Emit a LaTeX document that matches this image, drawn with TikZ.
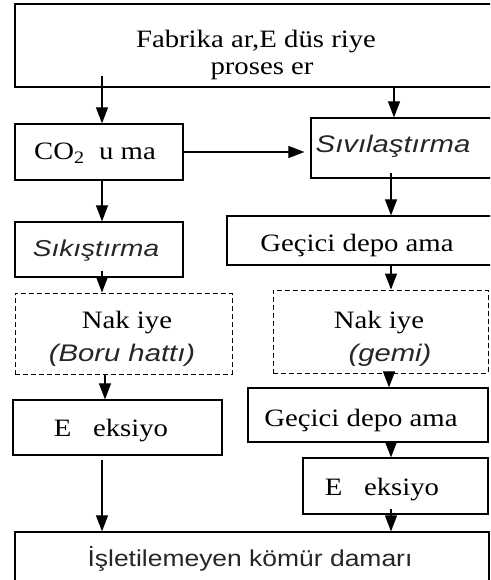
\documentclass[tikz,border=0pt]{standalone}
\usepackage{fontspec}
\setmainfont{Liberation Serif}[FakeStretch=1.15]
\newfontfamily\sansf{Liberation Sans}[FakeStretch=1.22]
\newfontfamily\sansg{Liberation Sans}[FakeStretch=1.15]
\usetikzlibrary{arrows.meta,fit}
\begin{document}
\begin{tikzpicture}[x=1pt,y=-1pt,
  box/.style={draw, line width=1.2pt, inner sep=0pt, rectangle},
  dbox/.style={box, line width=1pt, dash pattern=on 5pt off 3pt},
  arr/.style={line width=1.1pt, -{Triangle[length=16pt,width=12pt]}},
  serif/.style={font=\fontsize{25}{29}\selectfont, inner sep=0pt, anchor=base},
  sansi/.style={font=\sansf\itshape\fontsize{24}{28}\selectfont, inner sep=0pt, anchor=base, text=black!85},
  sansu/.style={font=\sansg\fontsize{23}{27}\selectfont, inner sep=0pt, anchor=base, text=black!85}]
\path[use as bounding box] (0,0) rectangle (490,580);
\clip (0,0) rectangle (490,580);

% boxes
\node[box, fit={(15,4) (497,87)}] (top) {};
\node[box, fit={(15,124) (183,180)}] (co2) {};
\node[box, fit={(311,118) (497,178)}] (sivi) {};
\node[box, fit={(15,222) (183,277)}] (sik) {};
\node[box, fit={(227,216) (497,265)}] (gec1) {};
\node[dbox, fit={(15,293) (232,374)}] (nak1) {};
\node[dbox, fit={(273,290) (488,373)}] (gemi) {};
\node[box, fit={(13,400) (222,455)}] (enj1) {};
\node[box, fit={(248,388) (488,442)}] (gec2) {};
\node[box, fit={(303,458) (488,514)}] (enj2) {};
\node[box, fit={(15,532) (489,595)}] (damar) {};

% texts
\node[serif] (topt1) at (256,48) {Fabrika ar,E düs riye};
\node[serif] (topt2) at (262,75) {proses er};
\node[serif] (co2t) at (95,160) {CO\textsubscript{2}\ \ u ma};
\node[sansi] (sivit) at (393,153) {Sıvılaştırma};
\node[sansi, font=\sansf\itshape\fontsize{23}{27}\selectfont] (sikt) at (96,256) {Sıkıştırma};
\node[serif] (gec1t) at (357,251) {Geçici depo ama};
\node[serif] (nak1t) at (127,328) {Nak iye};
\node[sansi] (nak1s) at (122,361) {(Boru hattı)};
\node[serif] (gemit) at (379,328) {Nak iye};
\node[sansi] (gemis) at (390,361) {(gemi)};
\node[serif] (enj1t) at (111,436) {E\ \ \ eksiyo};
\node[serif] (gec2t) at (361,426) {Geçici depo ama};
\node[serif] (enj2t) at (382,495) {E\ \ \ eksiyo};
\node[sansu] (damart) at (250,566) {İşletilemeyen kömür damarı};

% connectors
\draw[arr] ([yshift=12pt]top.south -| 102,0) -- (co2.north -| 102,0);
\draw[arr] (top.south -| 394,0) -- (sivi.north -| 394,0);
\draw[arr] (co2.east) -- ([xshift=-6pt]co2.east -| sivi.west);
\draw[arr] (co2.south -| 102,0) -- (sik.north -| 102,0);
\draw[arr] ([yshift=6pt]sivi.south -| 391,0) -- (gec1.north -| 391,0);
\draw[arr] ([yshift=7pt]sik.south -| 102,0) -- (nak1.north -| 102,0);
\draw[arr] (gec1.south -| 391,0) -- (gemi.north -| 391,0);
\draw[arr] (nak1.south -| 105,0) -- (enj1.north -| 105,0);
\draw[arr] (gemi.south -| 389,0) -- (gec2.north -| 389,0);
\draw[arr] (gec2.south -| 391,0) -- (enj2.north -| 391,0);
\draw[arr] ([yshift=-4pt]enj1.south -| 102,0) -- (damar.north -| 102,0);
\draw[arr] ([yshift=6pt]enj2.south -| 391,0) -- (damar.north -| 391,0);
\end{tikzpicture}
\end{document}
